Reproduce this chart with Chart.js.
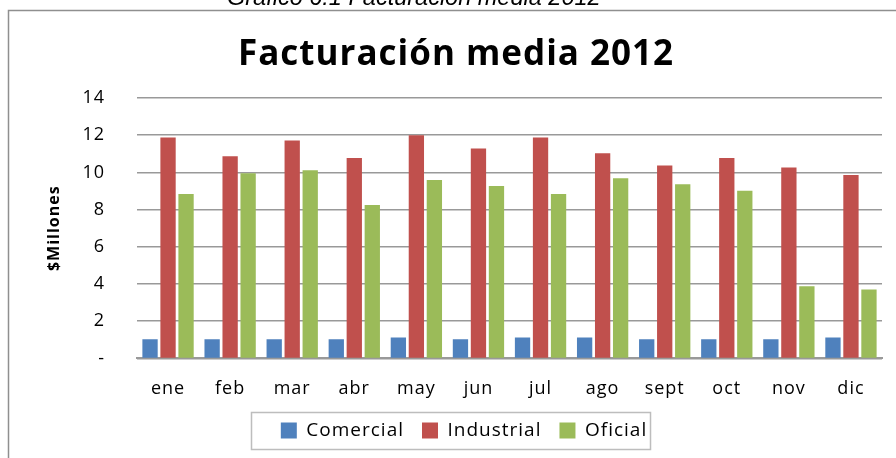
<!DOCTYPE html>
<html>
<head>
<meta charset="utf-8">
<script src="https://cdn.jsdelivr.net/npm/chart.js@4/dist/chart.umd.min.js"></script>
<style>
  html, body { margin: 0; padding: 0; background: #ffffff; }
  #wrap { position: relative; width: 896px; height: 458px; overflow: hidden; background: #ffffff; }
  #caption { position: absolute; left: 227px; top: -15px; font-family: "Liberation Sans", Arial, sans-serif; font-style: italic; font-size: 23.5px; line-height: 24px; color: #000; white-space: nowrap; z-index: 2; }
  canvas { position: absolute; left: 0; top: 0; }
</style>
</head>
<body>
<div id="wrap">
  <canvas id="c" width="896" height="458"></canvas>
  <div id="caption">Gráfico 6.1 Facturación media 2012</div>
</div>
<script>
const categories = ['ene', 'feb', 'mar', 'abr', 'may', 'jun', 'jul', 'ago', 'sept', 'oct', 'nov', 'dic'];
const comercial = [1.03, 1.03, 1.03, 1.03, 1.12, 1.03, 1.12, 1.12, 1.03, 1.03, 1.03, 1.12];
const industrial = [11.87, 10.87, 11.71, 10.78, 12.0, 11.28, 11.87, 11.03, 10.37, 10.78, 10.27, 9.86];
const oficial = [8.84, 9.95, 10.12, 8.25, 9.59, 9.27, 8.84, 9.69, 9.36, 9.02, 3.88, 3.71];
const yTicks = [0, 2, 4, 6, 8, 10, 12, 14];

const FONT = '"Open Sans", "Noto Sans", sans-serif';

const framePlugin = {
  id: 'frame',
  beforeDraw(chart) {
    const ctx = chart.ctx;
    ctx.save();
    ctx.fillStyle = '#ffffff';
    ctx.fillRect(0, 0, chart.width, chart.height);
    ctx.strokeStyle = '#8f8f8f';
    ctx.lineWidth = 1.5;
    ctx.strokeRect(8.5, 10.5, 1000, 1000);
    ctx.restore();
    ctx.letterSpacing = '1px';
  },
  afterDraw(chart) {
    const lg = chart.legend;
    if (!lg || !lg.legendHitBoxes || !lg.legendHitBoxes.length) return;
    const hb = lg.legendHitBoxes;
    let minL = Infinity, maxR = -Infinity, minT = Infinity, maxB = -Infinity;
    hb.forEach(h => {
      minL = Math.min(minL, h.left);
      maxR = Math.max(maxR, h.left + h.width);
      minT = Math.min(minT, h.top);
      maxB = Math.max(maxB, h.top + h.height);
    });
    const ctx = chart.ctx;
    ctx.save();
    ctx.strokeStyle = '#bdbdbd';
    ctx.lineWidth = 1.5;
    const x0 = Math.round(minL - 30) + 0.5;
    const x1 = Math.round(maxR + 29) + 0.5;
    const y0 = Math.round(minT - 9) + 0.5;
    const y1 = Math.round(maxB + 9) + 0.5;
    ctx.strokeRect(x0, y0, x1 - x0, y1 - y0);
    ctx.restore();
  }
};

function build() {
  new Chart(document.getElementById('c'), {
    type: 'bar',
    data: {
      labels: categories,
      datasets: [
        { label: 'Comercial', data: comercial, backgroundColor: '#4F81BD' },
        { label: 'Industrial', data: industrial, backgroundColor: '#C0504D' },
        { label: 'Oficial', data: oficial, backgroundColor: '#9BBB59' }
      ]
    },
    options: {
      responsive: false,
      animation: false,
      devicePixelRatio: 1,
      layout: { padding: { top: 34, left: 20, right: 14, bottom: 8 } },
      datasets: { bar: { categoryPercentage: 0.87, barPercentage: 0.85 } },
      plugins: {
        title: {
          display: true,
          text: ' Facturación media 2012',
          color: '#000',
          font: { family: FONT, size: 35, weight: 'bold' },
          padding: { top: 0, bottom: 22 }
        },
        legend: {
          position: 'bottom',
          labels: {
            color: '#000',
            font: { family: FONT, size: 19 },
            boxWidth: 16,
            boxHeight: 16,
            padding: 18
          }
        },
        tooltip: { enabled: false }
      },
      scales: {
        x: {
          grid: { display: false },
          border: { display: true, color: '#999999', width: 2 },
          ticks: { color: '#000', font: { family: FONT, size: 18 }, padding: 12, maxRotation: 0 },
          afterFit(s) { s.height -= 9; }
        },
        y: {
          min: 0,
          max: 14,
          afterBuildTicks(s) { s.ticks = yTicks.map(v => ({ value: v })); },
          afterFit(s) { s.width = 117; },
          grid: { color: '#999999', lineWidth: 1.5, drawTicks: false },
          border: { display: false },
          ticks: {
            color: '#000',
            font: { family: FONT, size: 18 },
            padding: 32,
            callback: v => (v === 0 ? '-' : String(v))
          },
          title: {
            display: true,
            text: '$Millones',
            color: '#000',
            font: { family: FONT, size: 16, weight: 'bold' },
            padding: { top: 25, bottom: 16 }
          }
        }
      }
    },
    plugins: [framePlugin]
  });
}

const loads = [
  document.fonts.load('18px "Open Sans"'),
  document.fonts.load('bold 35px "Open Sans"'),
  document.fonts.load('bold 16px "Open Sans"')
];
Promise.all(loads).then(build, build);
</script>
</body>
</html>
